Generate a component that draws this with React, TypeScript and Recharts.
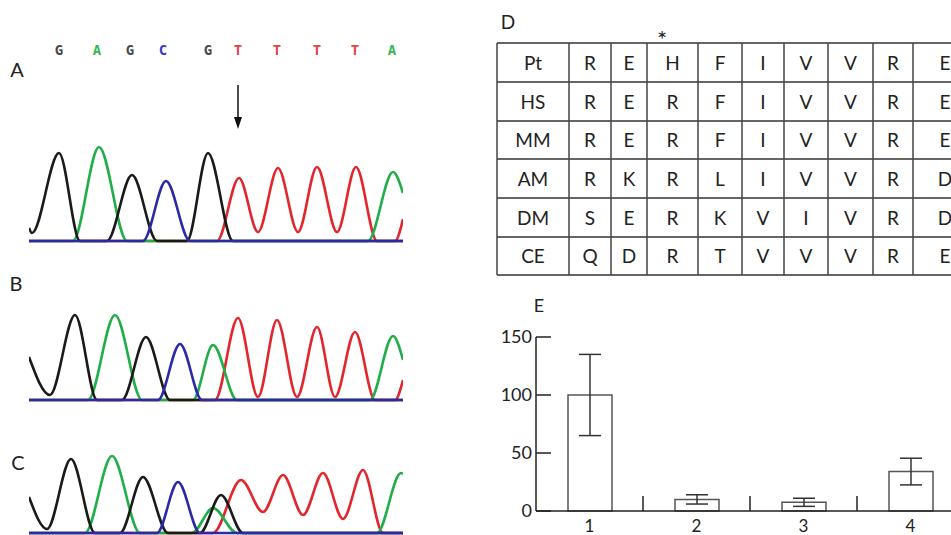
import { LineChart, Line, XAxis, YAxis, ReferenceLine, BarChart, Bar, ErrorBar } from "recharts"

// ---- chromatograms: [scan position, signal] ----
const bases = ["G", "A", "G", "C", "G", "T", "T", "T", "T", "A"]
const basePos = [59, 97, 130, 163, 208, 238, 277, 317, 355, 392]

const aBlack = [[29, 13], [32, 8], [59, 88], [80, 0], [107, 0], [132, 66], [157, 0], [187, 0], [208, 88], [233, 0], [403, 0]]
const aGreen = [[29, 0], [73, 0], [99, 94], [127, 0], [368, 0], [393, 69], [403, 48]]
const aBlue = [[29, 0], [143, 0], [166, 60], [190, 0], [403, 0]]
const aRed = [[29, 0], [217, 0], [239, 63], [258, 9], [278, 73], [298, 9], [317, 74], [337, 9], [356, 74], [377, 0], [395, 0], [403, 22]]

const bBlack = [[29, 43], [50, 5], [75, 85], [97, 0], [122, 0], [146, 63], [170, 0], [403, 0]]
const bGreen = [[29, 0], [88, 0], [115, 85], [142, 0], [193, 0], [213, 55], [237, 0], [370, 0], [393, 64], [403, 40]]
const bBlue = [[29, 0], [158, 0], [180, 56], [202, 0], [403, 0]]
const bRed = [[29, 0], [215, 0], [238, 82], [258, 3], [277, 80], [297, 3], [317, 73], [335, 3], [355, 68], [375, 0], [395, 0], [403, 20]]

const cBlack = [[29, 36], [47, 4], [71, 74], [95, 0], [120, 0], [143, 56], [168, 0], [200, 0], [221, 38], [243, 0], [403, 0]]
const cGreen = [[29, 0], [85, 0], [112, 77], [140, 0], [192, 0], [213, 25], [237, 0], [377, 0], [401, 60], [403, 59]]
const cBlue = [[29, 0], [157, 0], [178, 51], [200, 0], [403, 0]]
const cRed = [[29, 0], [213, 0], [241, 53], [263, 21], [283, 58], [303, 18], [323, 60], [343, 14], [363, 63], [383, 0], [403, 0]]

// ---- alignment table ----
const species = ["Pt", "HS", "MM", "AM", "DM", "CE"]
const residues = [
  ["R", "E", "H", "F", "I", "V", "V", "R", "E"],
  ["R", "E", "R", "F", "I", "V", "V", "R", "E"],
  ["R", "E", "R", "F", "I", "V", "V", "R", "E"],
  ["R", "K", "R", "L", "I", "V", "V", "R", "D"],
  ["S", "E", "R", "K", "V", "I", "V", "R", "D"],
  ["Q", "D", "R", "T", "V", "V", "V", "R", "E"],
]

// ---- bar chart ----
const groups = [1, 2, 3, 4]
const means = [100, 10, 7.5, 34]
const errors = [35, 4, 3.5, 11.5]
const yTicks = [0, 50, 100, 150]
const groupBounds = [1.5, 2.5, 3.5]

const barData = groups.map((g, i) => ({ group: g, mean: means[i], err: errors[i] }))
const toPts = (arr: number[][]) => arr.map(([x, y]) => ({ x, y }))

const colors: Record<string, string> = {
  red: "#e2262c",
  green: "#1fae48",
  black: "#1a1a1a",
  blue: "#2a2aa6",
}
const letterColors: Record<string, string> = { G: "#4a4a4a", A: "#35b550", C: "#3838c8", T: "#e04545" }

const font = "Lato, 'Open Sans', sans-serif"
const ink = "#222"

function BaseTick(props: any) {
  const b = bases[props.index]
  return (
    <text x={props.x} y={20} textAnchor="middle" fontFamily="'DejaVu Sans Mono', monospace" fontWeight="bold" fontSize={14} fill={letterColors[b]}>
      {b}
    </text>
  )
}

function Arrow(p: any) {
  return (
    <g>
      <line x1={p.x1} y1={p.y1} x2={p.x2} y2={p.y2 - 10} stroke="#111" strokeWidth={1.5} />
      <polygon points={`${p.x2 - 4},${p.y2 - 12} ${p.x2 + 4},${p.y2 - 12} ${p.x2},${p.y2}`} fill="#111" />
    </g>
  )
}

function Chromatogram(props: { top: number; height: number; red: number[][]; green: number[][]; black: number[][]; blue: number[][]; letters?: boolean; arrow?: boolean }) {
  const axisH = props.letters ? 30 : 0
  const pad = 3
  const traces: [string, number[][]][] = [
    ["red", props.red],
    ["green", props.green],
    ["black", props.black],
    ["blue", props.blue],
  ]
  return (
    <div style={{ position: "absolute", left: 29, top: props.top }}>
      <LineChart width={374} height={props.height + pad} margin={{ top: 0, right: 0, bottom: pad, left: 0 }}>
        <XAxis
          type="number"
          dataKey="x"
          domain={[29, 403]}
          orientation="top"
          hide={!props.letters}
          height={axisH}
          ticks={basePos}
          interval={0}
          axisLine={false}
          tickLine={false}
          tick={BaseTick}
        />
        <YAxis type="number" domain={[0, props.height - axisH]} hide />
        {traces.map(([c, d]) => (
          <Line
            key={c}
            data={toPts(d)}
            dataKey="y"
            type="monotone"
            stroke={colors[c]}
            strokeWidth={2.6}
            dot={false}
            isAnimationActive={false}
          />
        ))}
        {props.arrow && (
          <ReferenceLine segment={[{ x: 238, y: 156 }, { x: 238, y: 112 }]} ifOverflow="visible" shape={Arrow} />
        )}
      </LineChart>
    </div>
  )
}

function YTick(props: any) {
  return (
    <g>
      <text x={props.x} y={props.y} dy="0.36em" textAnchor="end" fontFamily={font} fontSize={18} fill={ink}>
        {props.payload.value}
      </text>
      <line x1={props.x + 4} x2={props.x + 19} y1={props.y} y2={props.y} stroke={ink} strokeWidth={1.5} />
    </g>
  )
}

function XTick(props: any) {
  return (
    <text x={props.x} y={props.y + 21} textAnchor="middle" fontFamily={font} fontSize={17} fill={ink}>
      {props.payload.value}
    </text>
  )
}

const colEdges = [497, 569, 611, 647, 698, 742, 784, 828, 873, 913, 977]
const rowEdges = [43, 82, 121, 159, 198, 237, 275]

function AlignmentTable() {
  const cells: any[] = []
  species.forEach((sp, r) => {
    const cy = (rowEdges[r] + rowEdges[r + 1]) / 2 + 7
    const row = [sp, ...residues[r]]
    row.forEach((t, c) => {
      cells.push(
        <text key={`${r}-${c}`} x={(colEdges[c] + colEdges[c + 1]) / 2} y={cy} textAnchor="middle" fontFamily={font} fontSize={19} fill={ink}>
          {t}
        </text>
      )
    })
  })
  return (
    <g>
      {rowEdges.map((y) => (
        <line key={`r${y}`} x1={colEdges[0]} x2={colEdges[colEdges.length - 1]} y1={y} y2={y} stroke="#333" strokeWidth={1.5} />
      ))}
      {colEdges.map((x) => (
        <line key={`c${x}`} x1={x} x2={x} y1={rowEdges[0]} y2={rowEdges[rowEdges.length - 1]} stroke="#444" strokeWidth={1.5} />
      ))}
      {cells}
      <text x={662} y={48} textAnchor="middle" fontFamily={font} fontSize={24} fill={ink}>*</text>
    </g>
  )
}

export default function App() {
  return (
    <div style={{ position: "absolute", left: 0, top: 0, width: 951, height: 535, overflow: "hidden", background: "#fff" }}>
      <svg width={951} height={535} style={{ position: "absolute", left: 0, top: 0 }}>
        <text x={17} y={77} textAnchor="middle" fontFamily={font} fontSize={20} fill={ink}>A</text>
        <text x={16} y={291} textAnchor="middle" fontFamily={font} fontSize={20} fill={ink}>B</text>
        <text x={18} y={470} textAnchor="middle" fontFamily={font} fontSize={20} fill={ink}>C</text>
        <text x={508} y={29} textAnchor="middle" fontFamily={font} fontSize={19} fill={ink}>D</text>
        <text x={539} y={312} textAnchor="middle" fontFamily={font} fontSize={18} fill={ink}>E</text>
        <AlignmentTable />
      </svg>

      <Chromatogram top={35} height={206} red={aRed} green={aGreen} black={aBlack} blue={aBlue} letters arrow />
      <Chromatogram top={300} height={100} red={bRed} green={bGreen} black={bBlack} blue={bBlue} />
      <Chromatogram top={440} height={93} red={cRed} green={cGreen} black={cBlack} blue={cBlue} />

      <div style={{ position: "absolute", left: 466, top: 300 }}>
        <BarChart width={510} height={235} data={barData} margin={{ top: 37, right: 12, bottom: 0, left: 0 }}>
          <XAxis
            type="number"
            dataKey="group"
            domain={[0.5, 4.5]}
            ticks={groups}
            interval={0}
            height={24}
            tickSize={0}
            tickMargin={0}
            axisLine={{ stroke: ink, strokeWidth: 1.5 }}
            tickLine={false}
            tick={XTick}
          />
          <YAxis
            type="number"
            domain={[0, 150]}
            ticks={yTicks}
            interval={0}
            width={70}
            tickSize={0}
            tickMargin={4}
            axisLine={{ stroke: ink, strokeWidth: 1.5 }}
            tickLine={false}
            tick={YTick}
          />
          {groupBounds.map((b) => (
            <ReferenceLine key={b} segment={[{ x: b, y: 0 }, { x: b, y: 13 }]} stroke={ink} strokeWidth={1.5} />
          ))}
          <Bar dataKey="mean" barSize={44} fill="#fff" stroke="#555" strokeWidth={1.5} isAnimationActive={false}>
            <ErrorBar dataKey="err" width={11} stroke="#333" strokeWidth={1.5} isAnimationActive={false} />
          </Bar>
        </BarChart>
      </div>
    </div>
  )
}
